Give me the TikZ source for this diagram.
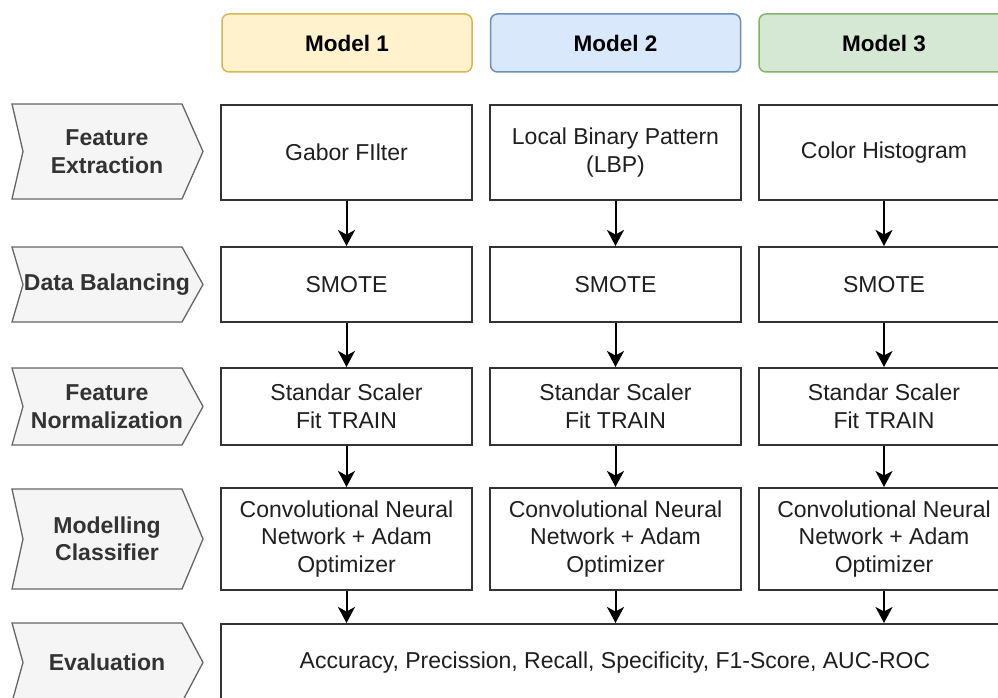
\documentclass[tikz,border=0pt]{standalone}
\usepackage{fontspec}
\setmainfont{Liberation Sans}
\usetikzlibrary{arrows.meta}
\definecolor{boxline}{HTML}{333333}
\definecolor{boxtxt}{HTML}{1F1F1F}
\definecolor{chevfill}{HTML}{F5F5F5}
\definecolor{chevline}{HTML}{666666}
\definecolor{chevtxt}{HTML}{333333}
\definecolor{yfill}{HTML}{FFF2CC}
\definecolor{yline}{HTML}{D6B656}
\definecolor{bfill}{HTML}{DAE8FC}
\definecolor{bline}{HTML}{6C8EBF}
\definecolor{gfill}{HTML}{D5E8D4}
\definecolor{gline}{HTML}{82B366}
\tikzset{
  box/.style={draw=boxline, line width=2pt, fill=white, text=boxtxt, align=center,
    font=\fontsize{23}{27.5}\selectfont, inner sep=0pt, minimum width=251pt},
  hdr/.style={rounded corners=7pt, line width=1.5pt, text=black, inner sep=0pt,
    font=\bfseries\fontsize{22.5}{27}\selectfont, minimum width=250pt, minimum height=58pt},
  chev/.style={fill=chevfill, draw=chevline, line width=1.3pt},
  chevtext/.style={text=chevtxt, align=center, font=\bfseries\fontsize{23}{27.5}\selectfont},
  flow/.style={draw=black, line width=2pt, -{Stealth[length=16pt,width=17pt,inset=4.5pt]}}
}
\newcommand\chevshape[4]{%
  \path[chev] (12,#1) -- (182,#1) -- (203,{(#1+#2)/2}) -- (182,#2) -- (12,#2) -- (23,{(#1+#2)/2}) -- cycle;
  \node[chevtext] (#3) at (107,{(#1+#2)/2}) {#4};
}
\begin{document}
\begin{tikzpicture}[x=1pt,y=-1pt]
\useasboundingbox (0,0) rectangle (998,698);
\clip (0,0) rectangle (998,698);
% headers
\node[hdr, fill=yfill, draw=yline] (m1) at (347,43) {Model 1};
\node[hdr, fill=bfill, draw=bline] (m2) at (615.5,43) {Model 2};
\node[hdr, fill=gfill, draw=gline] (m3) at (884,43) {Model 3};
% chevrons
\chevshape{104}{199}{s1}{Feature\\Extraction}
\chevshape{247}{322}{s2}{Data Balancing}
\chevshape{368}{445}{s3}{Feature\\Normalization}
\chevshape{489}{589}{s4}{Modelling\\Classifier}
\chevshape{623}{702}{s5}{Evaluation}
% row 1
\node[box, minimum height=95pt] (a1) at (346.5,152.5) {Gabor FIlter};
\node[box, minimum height=95pt] (b1) at (615.5,152.5) {Local Binary Pattern\\(LBP)};
\node[box, minimum height=95pt] (c1) at (884,152.5) {Color Histogram};
% row 2
\node[box, minimum height=75pt] (a2) at (346.5,284.5) {SMOTE};
\node[box, minimum height=75pt] (b2) at (615.5,284.5) {SMOTE};
\node[box, minimum height=75pt] (c2) at (884,284.5) {SMOTE};
% row 3
\node[box, minimum height=77pt] (a3) at (346.5,406.5) {Standar Scaler\\Fit TRAIN};
\node[box, minimum height=77pt] (b3) at (615.5,406.5) {Standar Scaler\\Fit TRAIN};
\node[box, minimum height=77pt] (c3) at (884,406.5) {Standar Scaler\\Fit TRAIN};
% row 4
\node[box, minimum height=102pt] (a4) at (346.5,539) {Convolutional Neural\\Network + Adam\\Optimizer};
\node[box, minimum height=102pt] (b4) at (615.5,539) {Convolutional Neural\\Network + Adam\\Optimizer};
\node[box, minimum height=102pt] (c4) at (884,539) {Convolutional Neural\\Network + Adam\\Optimizer};
% evaluation
\node[box, minimum width=788pt, minimum height=78pt] (ev) at (615,663) {Accuracy, Precission, Recall, Specificity, F1-Score, AUC-ROC};
% arrows
\foreach \c in {a,b,c}{
  \draw[flow] (\c1) -- (\c2);
  \draw[flow] (\c2) -- (\c3);
  \draw[flow] (\c3) -- (\c4);
  \draw[flow] (\c4) -- (\c4 |- ev.north);
}
\end{tikzpicture}
\end{document}
